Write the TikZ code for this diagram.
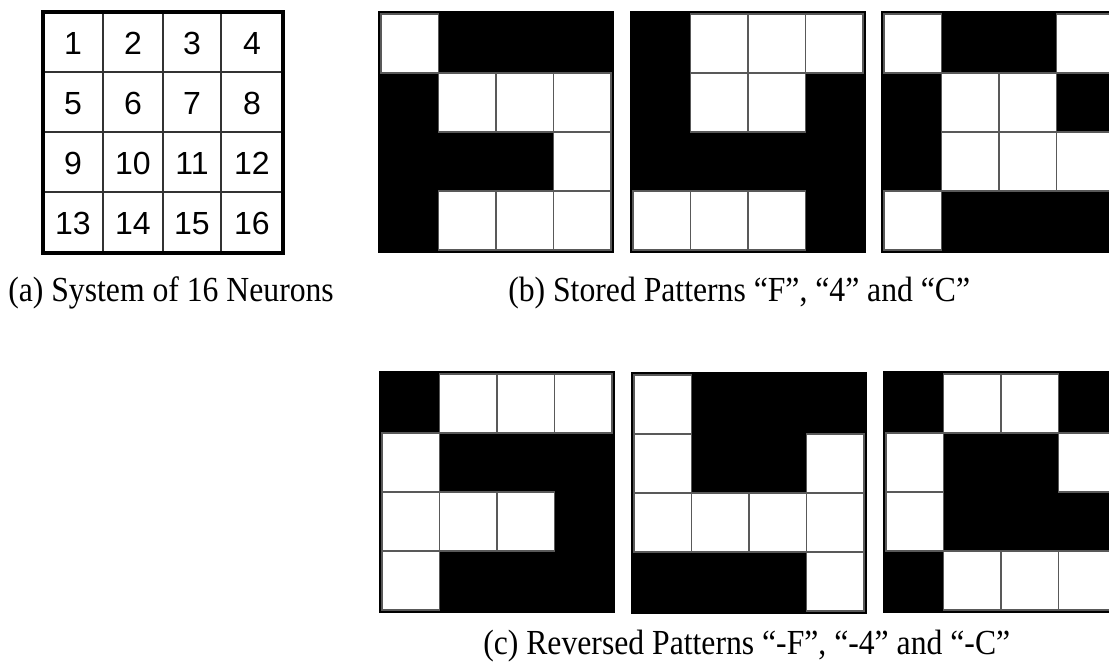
\documentclass[tikz,border=0pt]{standalone}
\usepackage{graphicx}
\usepackage{fontspec}
\setmainfont{Liberation Serif}
\newfontfamily\arialf{Liberation Sans}
\tikzset{
  cellw/.style={fill=white, draw=black!65, line width=0.9pt},
  numlbl/.style={font=\arialf\fontsize{24}{28}\selectfont, inner sep=0pt},
  caplbl/.style={font=\fontsize{24}{28}\selectfont, inner sep=0pt, anchor=base west},
  gridline/.style={line width=0.8pt, draw=black!80},
}
\newcommand\tallcap[1]{\scalebox{0.99}[1.1]{#1}}
\newcommand\hpat[4]{%
  \fill[black] (#1,#2) rectangle ++(236,242);
  \foreach \b [count=\i from 0] in {#3} {
    \pgfmathtruncatemacro\rr{int(\i/4)}
    \pgfmathtruncatemacro\cc{mod(\i,4)}
    \ifnum\b=1
      \draw[cellw] ({#1+3+\cc*57.5},{#2+3+\rr*59}) rectangle ++(57.5,59);
    \fi
  }
  \coordinate (#4) at (#1,#2);
}
\begin{document}
\begin{tikzpicture}[x=0.75pt,y=-0.75pt]
\useasboundingbox (0,0) rectangle (1109,662);
\clip (0,0) rectangle (1109,662);
% (a) numbered grid
\foreach \x in {103,163,221} \draw[gridline] (\x,12) -- (\x,253);
\foreach \y in {72,132,192} \draw[gridline] (43,\y) -- (283,\y);
\draw[line width=2.4pt] (43,12) rectangle (283,253);
\foreach \n [count=\k from 0] in {1,...,16} {
  \pgfmathtruncatemacro\rr{int(\k/4)}
  \pgfmathtruncatemacro\cc{mod(\k,4)}
  \pgfmathsetmacro\cx{{73,133,192,252}[\cc]}
  \pgfmathsetmacro\cy{43+\rr*60.2}
  \node[numlbl] (n\n) at (\cx,\cy) {\n};
}
% (b) stored patterns
\hpat{378}{11}{1,0,0,0, 0,1,1,1, 0,0,0,1, 0,1,1,1}{pF}
\hpat{630}{11}{0,1,1,1, 0,1,1,0, 0,0,0,0, 1,1,1,0}{p4}
\hpat{881}{11}{1,0,0,1, 0,1,1,0, 0,1,1,1, 1,0,0,0}{pC}
% (c) reversed patterns
\hpat{379}{371}{0,1,1,1, 1,0,0,0, 1,1,1,0, 1,0,0,0}{rF}
\hpat{631}{372}{1,0,0,0, 1,0,0,1, 1,1,1,1, 0,0,0,1}{r4}
\hpat{883}{371}{0,1,1,0, 1,0,0,1, 1,0,0,0, 0,1,1,1}{rC}
% captions
\node[caplbl] (capa) at (8,301) {\tallcap{(a) System of 16 Neurons}};
\node[caplbl] (capb) at (508,301) {\tallcap{(b) Stored Patterns “F”, “4” and “C”}};
\node[caplbl] (capc) at (483,654) {\tallcap{(c) Reversed Patterns “-F”, “-4” and “-C”}};
\end{tikzpicture}
\end{document}
